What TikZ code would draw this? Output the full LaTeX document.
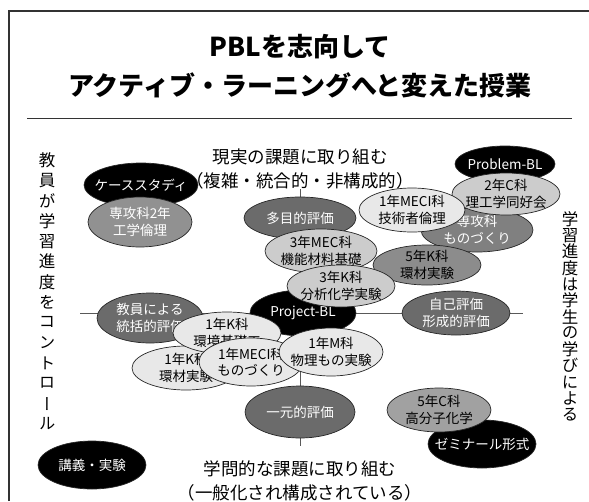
\documentclass[tikz,border=0pt]{standalone}
\usepackage{fontspec}
\usetikzlibrary{shapes.geometric}
\newfontfamily\cjk{Noto Sans CJK JP}
\newfontfamily\cjkv[RawFeature=+vert]{Noto Sans CJK JP}
\definecolor{dkg}{gray}{0.42}
\definecolor{mdg}{gray}{0.50}
\definecolor{mkg}{gray}{0.55}
\definecolor{mlg}{gray}{0.57}
\definecolor{cg}{gray}{0.63}
\definecolor{ltg}{gray}{0.80}
\definecolor{vlg}{gray}{0.91}
\tikzset{
  bub/.style={ellipse, draw=black!85, line width=0.7pt, inner sep=0pt, outer sep=0pt},
  bubtxt/.style={align=center, inner sep=0pt, font=\cjk\fontsize{13.5}{16.5}\selectfont},
  axis/.style={draw=black!65, line width=0.9pt},
  frame/.style={draw=black!80, line width=1.1pt},
  lab/.style={align=center, inner sep=0pt, font=\cjk\fontsize{17.5}{24}\selectfont},
  vtxt/.style={inner sep=0pt, font=\cjkv\fontsize{16.5}{17}\selectfont},
  ttl/.style={inner sep=0pt, font=\cjk\bfseries\fontsize{26}{30}\selectfont},
}
\newcommand{\bub}[8]{%
  \node[bub, fill=#6, minimum width=#4*2pt, minimum height=#5*2pt] (#1) at (#2,-#3) {};
  \node[bubtxt, text=#7] (#1t) at (#1.center) {#8};
}
\begin{document}
\begin{tikzpicture}[x=1pt,y=1pt]
\useasboundingbox (0,0) rectangle (589,-501);
% frame
\coordinate (fb) at (9,-501);
\coordinate (ftl) at (9,-11);
\coordinate (ftr) at (589,-11);
\draw[frame] (fb) -- (ftl) -- (ftr);
% title
\node[ttl] (t1) at (300,-47) {PBLを志向して};
\node[ttl] (t2) at (300,-85) {アクティブ・ラーニングへと変えた授業};
\coordinate (rl) at (27,-118);
\coordinate (rr) at (572,-118);
\draw[draw=black!80, line width=0.9pt] (rl) -- (rr);
% axis labels
\node[lab] (toplab) at (300,-169) {現実の課題に取り組む\\（複雑・統合的・非構成的）};
\node[lab] (botlab) at (300,-481) {学問的な課題に取り組む\\（一般化され構成されている）};
\coordinate (vt) at (300,-189);
\coordinate (vb) at (300,-446);
\coordinate (hl) at (80,-313);
\coordinate (hr) at (523,-313);
\draw[axis] (vt) -- (vb);
\draw[axis] (hl) -- (hr);
% vertical texts
\foreach \c [count=\i] in {教,員,が,学,習,進,度,を,コ,ン,ト,ロ,ー,ル}
  \node[vtxt] (lv\i) at (47,{-160-20.3*(\i-1)}) {\c};
\foreach \c [count=\i] in {学,習,進,度,は,学,生,の,学,び,に,よ,る}
  \node[vtxt] (rv\i) at (570,{-219-16.3*(\i-1)}) {\c};
% bubbles
\bub{cs}{141}{185}{57}{22}{black}{white}{ケーススタディ}
\bub{sk2}{140}{222}{52}{25}{mlg}{white}{専攻科2年\\工学倫理}
\bub{pbl}{505}{164}{50}{18}{black}{white}{Problem-BL}
\bub{skm}{477}{230}{56}{22}{mdg}{white}{専攻科\\ものづくり}
\bub{c2}{506}{194}{54}{21}{ltg}{black}{2年C科\\理工学同好会}
\bub{mg}{412}{210}{53}{22}{vlg}{black}{1年MECI科\\技術者倫理}
\bub{tm}{300}{218}{56}{21}{dkg}{white}{多目的評価}
\bub{k5}{427}{265}{54}{20}{mkg}{black}{5年K科\\環材実験}
\bub{mec3}{321}{251}{56}{22}{ltg}{black}{3年MEC科\\機能材料基礎}
\bub{prj}{303}{313}{53}{23}{black}{white}{Project-BL}
\bub{k3}{341}{286}{54}{21}{ltg}{black}{3年K科\\分析化学実験}
\bub{ky}{150}{318}{53}{25}{dkg}{white}{教員による\\統括的評価}
\bub{jk}{456}{313}{54}{22}{dkg}{white}{自己評価\\形成的評価}
\bub{ig}{300}{412}{55}{26}{dkg}{white}{一元的評価}
\bub{k1b}{186}{368}{54}{22}{vlg}{black}{1年K科\\環材実験}
\bub{k1a}{227}{333}{54}{21}{vlg}{black}{1年K科\\環境基礎工}
\bub{mm}{251}{362}{52}{24}{vlg}{black}{1年MECI科\\ものづくり}
\bub{m1}{331}{352}{52}{24}{vlg}{black}{1年M科\\物理もの実験}
\bub{zs}{482}{444}{54}{24}{black}{white}{ゼミナール形式}
\bub{c5}{439}{410}{52}{22}{cg}{black}{5年C科\\高分子化学}
\bub{kj}{92}{465}{54}{24}{black}{white}{講義・実験}
\end{tikzpicture}
\end{document}
